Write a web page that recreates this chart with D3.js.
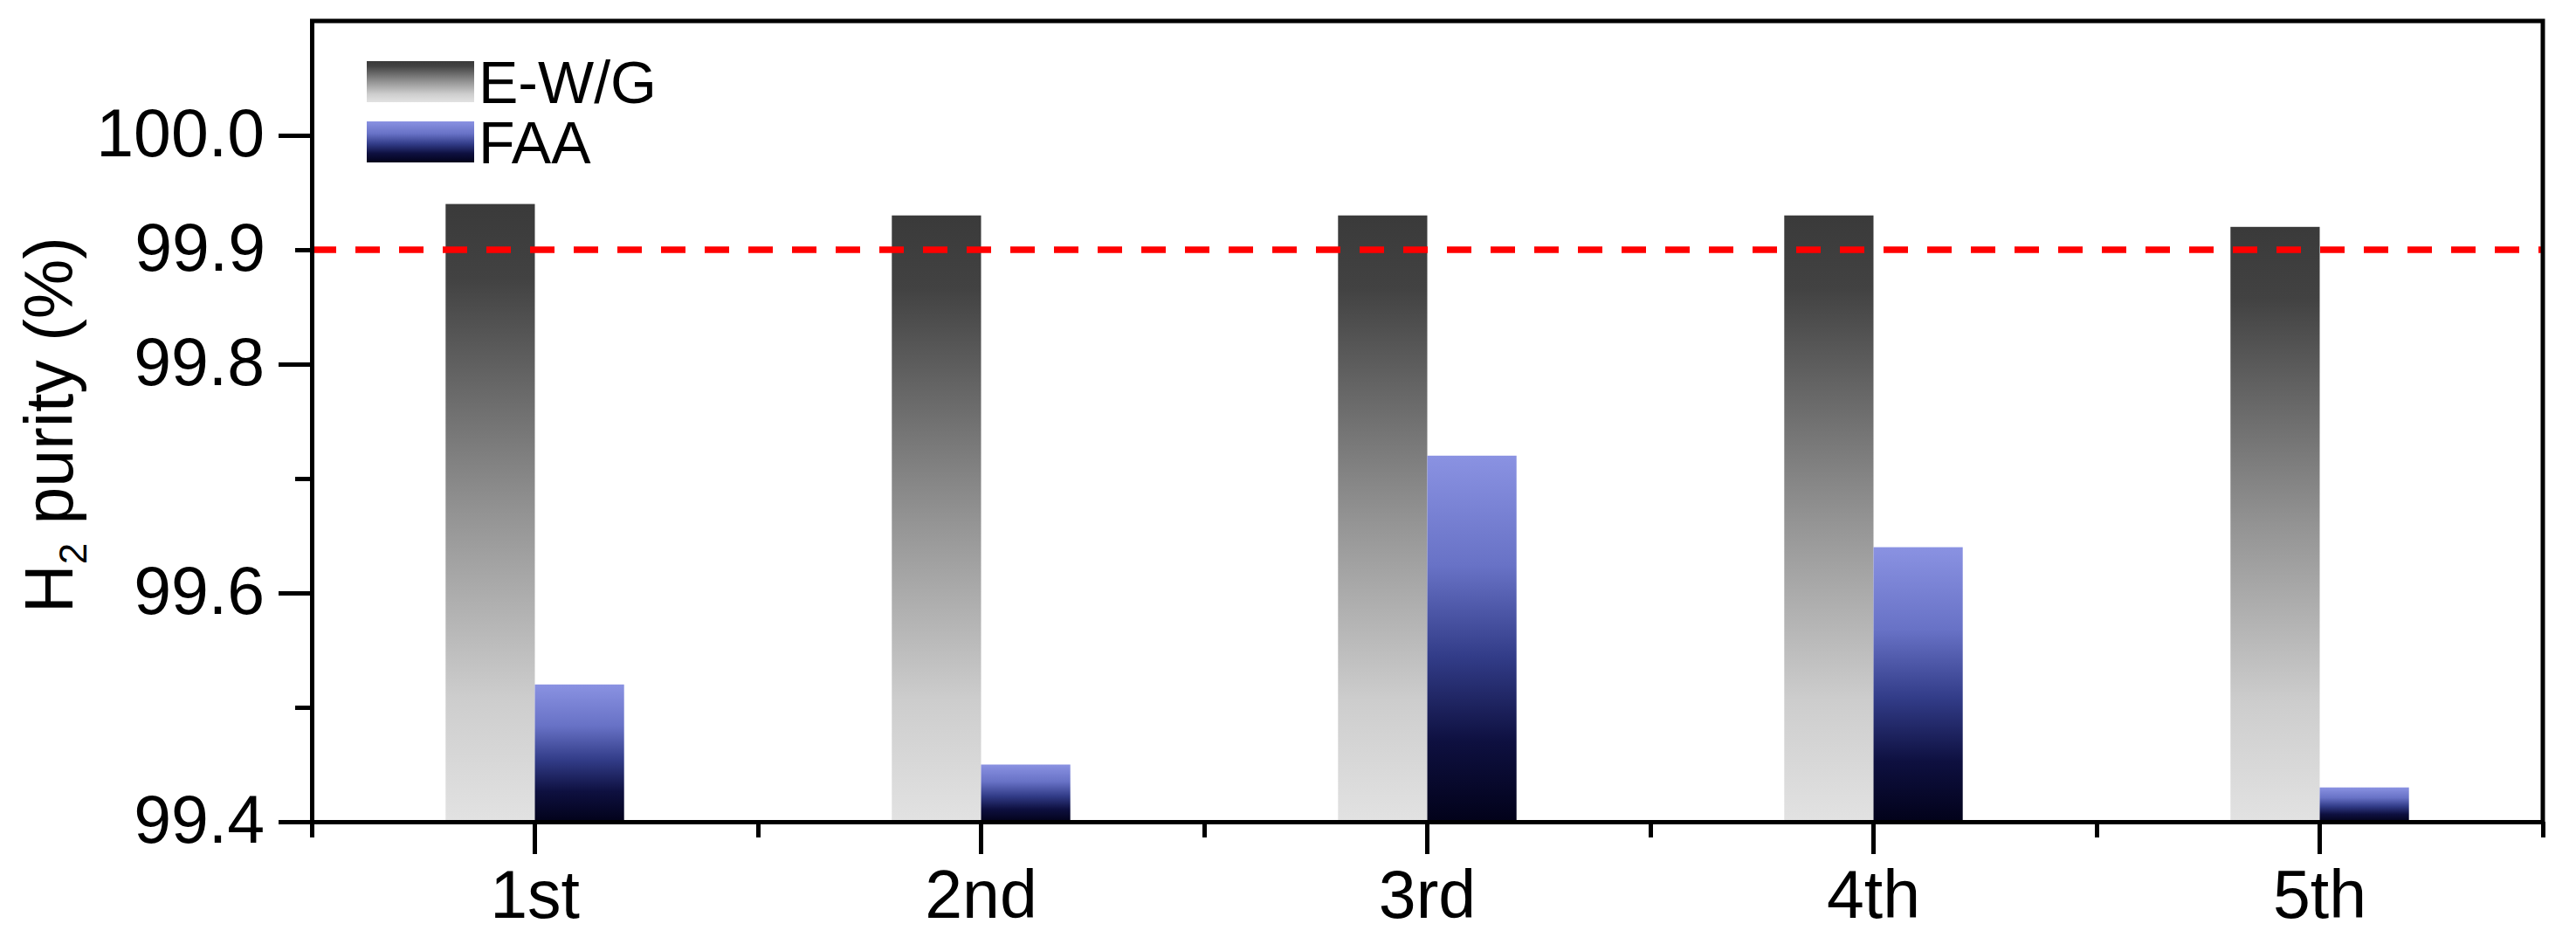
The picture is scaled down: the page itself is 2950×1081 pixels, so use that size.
<!DOCTYPE html>
<html>
  <head>
    <meta charset="utf-8">
    <title>H2 purity</title>
    <script src="https://d3js.org/d3.v7.min.js"></script>
    <style>
      body { margin: 0; background: #fff; }
      svg { font-family: "Liberation Sans", Arial, sans-serif; }
      .axis path, .axis line { stroke: #000; stroke-width: 5; }
      .axis text { fill: #000; font-size: 77px; }
    </style>
  </head>
  <body>
    <svg id="svg" width="2950" height="1081"></svg>
    <script>
      // data
      var cycles = ["1st", "2nd", "3rd", "4th", "5th"];
      var series = ["E-W/G", "FAA"];
      var ewgValues = [99.94, 99.93, 99.93, 99.93, 99.92];
      var faaValues = [99.52, 99.45, 99.72, 99.64, 99.43];
      var majorTicks = [99.4, 99.6, 99.8, 100.0];
      var minorTicks = [99.5, 99.7, 99.9];
      var threshold = 99.9;

      var margin = {left: 357, right: 38, top: 24, bottom: 140};
      var width = 2950, height = 1081;
      var svg = d3.select("#svg");

      // gradients
      var defs = svg.append("defs");
      var gradStops = {
        "E-W/G": [[0, "#3a3a3a"], [0.12, "#424242"], [0.5, "#939393"], [0.8, "#cdcdcd"], [1, "#e2e2e2"]],
        "FAA": [[0, "#8a92e2"], [0.3, "#6872c6"], [0.55, "#323c88"], [0.78, "#0e1040"], [1, "#02021a"]]
      };
      series.forEach(function(s, i) {
        defs.append("linearGradient")
            .attr("id", "grad" + i)
            .attr("x1", "0").attr("x2", "0").attr("y1", "0").attr("y2", "1")
          .selectAll("stop")
            .data(gradStops[s])
          .enter().append("stop")
            .attr("offset", function(d) { return d[0]; })
            .attr("stop-color", function(d) { return d[1]; });
      });

      // scales
      var x = d3.scaleBand()
          .domain(cycles)
          .range([margin.left, width - margin.right])
          .padding(0);
      var x1 = d3.scaleBand()
          .domain(series)
          .range([x.bandwidth() * 0.3, x.bandwidth() * 0.7]);
      var y = d3.scaleLinear()
          .domain([99.4, 100.1])
          .range([height - margin.bottom, margin.top]);

      var table = cycles.map(function(c, i) {
        return {cycle: c, values: [ewgValues[i], faaValues[i]]};
      });

      // bars
      var groups = svg.append("g")
        .selectAll("g")
          .data(table)
        .enter().append("g")
          .attr("transform", function(d) { return "translate(" + x(d.cycle) + ",0)"; });
      groups.selectAll("rect")
          .data(function(d) { return d.values.map(function(v, i) { return {s: series[i], i: i, v: v}; }); })
        .enter().append("rect")
          .attr("x", function(d) { return x1(d.s); })
          .attr("width", x1.bandwidth())
          .attr("y", function(d) { return y(d.v); })
          .attr("height", function(d) { return y(99.4) - y(d.v); })
          .attr("fill", function(d) { return "url(#grad" + d.i + ")"; });

      // threshold line
      svg.append("line")
          .attr("x1", margin.left).attr("x2", width - margin.right)
          .attr("y1", y(threshold)).attr("y2", y(threshold))
          .attr("stroke", "#ff0000")
          .attr("stroke-width", 7.5)
          .attr("stroke-dasharray", "28,22");

      // y axis
      var yAxis = svg.append("g")
          .attr("class", "axis")
          .attr("transform", "translate(" + margin.left + ",0)")
          .call(d3.axisLeft(y).tickValues(majorTicks).tickFormat(d3.format(".1f")).tickSize(38).tickSizeOuter(0).tickPadding(16));
      yAxis.selectAll("text").attr("dy", "0.3em");
      var yMinor = svg.append("g")
          .attr("class", "axis")
          .attr("transform", "translate(" + margin.left + ",0)")
          .call(d3.axisLeft(y).tickValues(minorTicks).tickSize(19).tickSizeOuter(0).tickPadding(34)
            .tickFormat(function(d) { return d === threshold ? d3.format(".1f")(d) : ""; }));
      yMinor.select("path").remove();
      yMinor.selectAll("text").attr("dy", "0.3em").attr("fill", "#ff0000");

      // x axis
      var xAxis = svg.append("g")
          .attr("class", "axis")
          .attr("transform", "translate(0," + y(99.4) + ")")
          .call(d3.axisBottom(x).tickSize(37).tickSizeOuter(0).tickPadding(18));
      xAxis.selectAll("text").attr("dy", "0.71em");
      var bounds = x.domain().map(function(d) { return x(d); }).concat([width - margin.right]);
      var xMinor = svg.append("g")
          .attr("class", "axis")
          .attr("transform", "translate(0," + y(99.4) + ")")
          .call(d3.axisBottom(d3.scaleIdentity()).tickValues(bounds).tickSize(18).tickSizeOuter(0).tickFormat(""));
      xMinor.select("path").remove();

      // frame top and right
      svg.append("path")
          .attr("d", "M" + (margin.left - 2) + "," + margin.top + "H" + (width - margin.right) + "V" + y(99.4))
          .attr("fill", "none")
          .attr("stroke", "#000")
          .attr("stroke-width", 5);

      // y title
      var title = svg.append("text")
          .attr("transform", "translate(83," + ((margin.top + y(99.4)) / 2 + 4) + ") rotate(-90)")
          .attr("text-anchor", "middle")
          .attr("font-size", 77);
      title.append("tspan").text("H");
      title.append("tspan").attr("font-size", 44).attr("dy", 16).text("2");
      title.append("tspan").attr("dy", -16).text(" purity (%)");

      // legend
      var legend = svg.append("g")
        .selectAll("g")
          .data(series)
        .enter().append("g")
          .attr("transform", function(d, i) { return "translate(420," + (70 + i * 69) + ")"; });
      legend.append("rect")
          .attr("width", 123)
          .attr("height", 47)
          .attr("fill", function(d, i) { return "url(#grad" + i + ")"; });
      legend.append("text")
          .attr("x", 128)
          .attr("y", 48)
          .attr("font-size", 68)
          .text(function(d) { return d; });
    </script>
  </body>
</html>
